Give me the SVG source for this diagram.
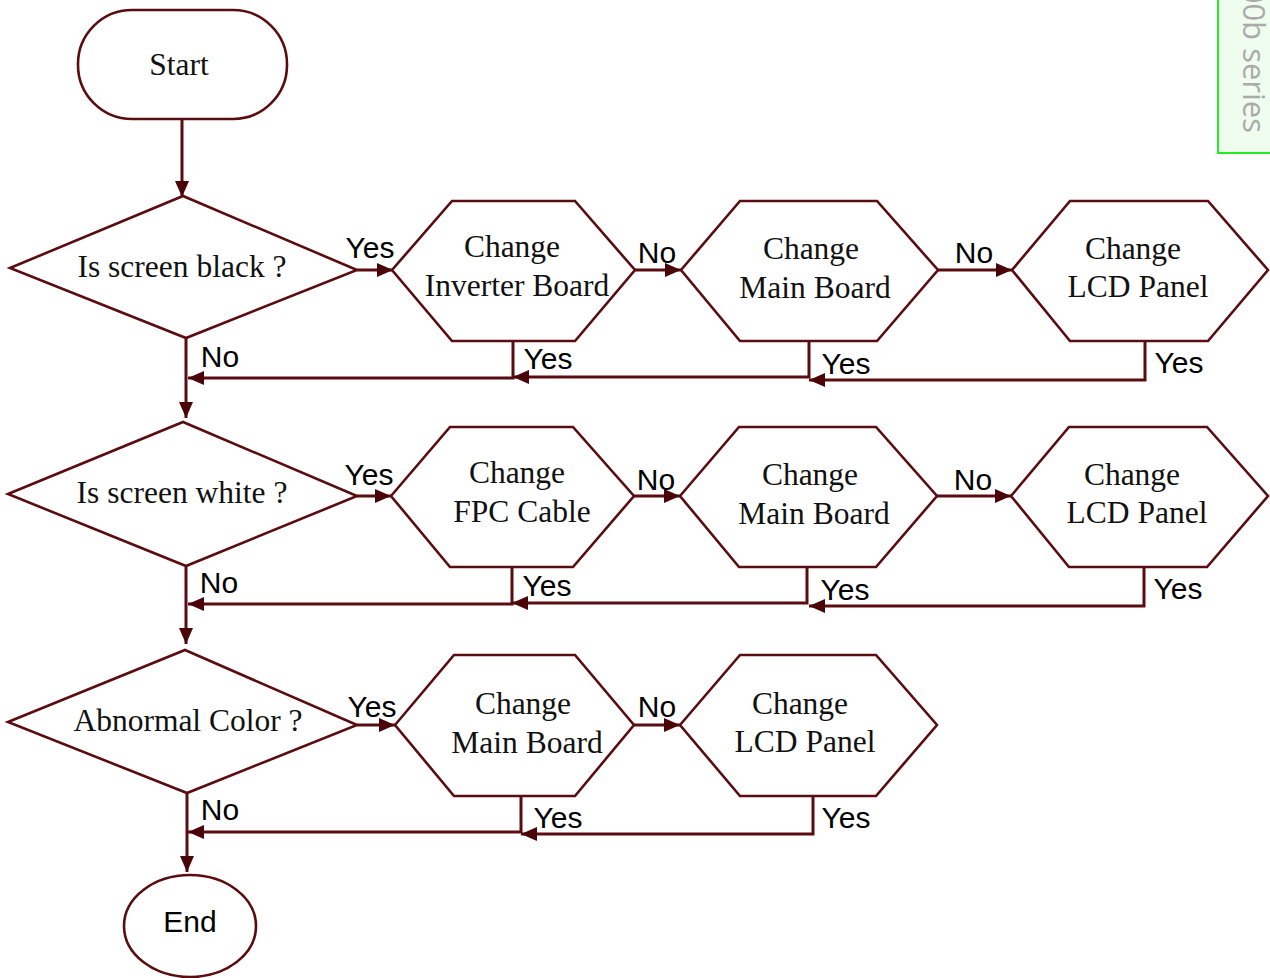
<svg xmlns="http://www.w3.org/2000/svg" width="1270" height="978" viewBox="0 0 1270 978">
<defs>
<style>
.shape{fill:#fff;stroke:#5a0c10;stroke-width:2.6}
.line{fill:none;stroke:#5a0c10;stroke-width:3}
.t{font-family:"Liberation Serif",serif;font-size:31.5px;fill:#111;text-anchor:middle}
.l{font-family:"Liberation Sans",Arial,sans-serif;font-size:30px;fill:#000;text-anchor:middle}
</style>
<marker id="ah" viewBox="0 0 16 14" refX="16" refY="7" markerWidth="16" markerHeight="14" markerUnits="userSpaceOnUse" orient="auto">
<path d="M0,0 L16,7 L0,14 Z" fill="#4a0508"/>
</marker>
</defs>
<rect width="1270" height="978" fill="#fff"/>
<g id="watermark">
<rect x="1218" y="-5" width="60" height="158" fill="#effdef" stroke="#22ee22" stroke-width="2"/>
<text transform="translate(1243,133) rotate(90)" font-family="Open Sans,sans-serif" font-size="31" fill="#aaaaaa" text-anchor="end">00b series</text>
</g>
<g id="connectors">
<path class="line" d="M182,119 V197" marker-end="url(#ah)"/>
<path class="line" d="M357,270 H393" marker-end="url(#ah)"/>
<path class="line" d="M635,270 H681" marker-end="url(#ah)"/>
<path class="line" d="M938,270 H1012" marker-end="url(#ah)"/>
<path class="line" d="M186,338 V418" marker-end="url(#ah)"/>
<path class="line" d="M513,341 V378 H188" marker-end="url(#ah)"/>
<path class="line" d="M809,341 V377 H513" marker-end="url(#ah)"/>
<path class="line" d="M1145,341 V380 H809" marker-end="url(#ah)"/>
<path class="line" d="M357,496 H391" marker-end="url(#ah)"/>
<path class="line" d="M634,496 H680" marker-end="url(#ah)"/>
<path class="line" d="M937,496 H1011" marker-end="url(#ah)"/>
<path class="line" d="M186,566 V644" marker-end="url(#ah)"/>
<path class="line" d="M512,567 V604 H188" marker-end="url(#ah)"/>
<path class="line" d="M807,567 V603 H512" marker-end="url(#ah)"/>
<path class="line" d="M1144,567 V606 H809" marker-end="url(#ah)"/>
<path class="line" d="M357,725 H395" marker-end="url(#ah)"/>
<path class="line" d="M634,725 H680" marker-end="url(#ah)"/>
<path class="line" d="M187,793 V872" marker-end="url(#ah)"/>
<path class="line" d="M521,796 V832 H188" marker-end="url(#ah)"/>
<path class="line" d="M813,796 V834 H521" marker-end="url(#ah)"/>
<text class="l" x="370" y="258">Yes</text>
<text class="l" x="657" y="263">No</text>
<text class="l" x="974" y="263">No</text>
<text class="l" x="220" y="367">No</text>
<text class="l" x="548" y="369">Yes</text>
<text class="l" x="846" y="374">Yes</text>
<text class="l" x="1179" y="373">Yes</text>
<text class="l" x="369" y="485">Yes</text>
<text class="l" x="656" y="490">No</text>
<text class="l" x="973" y="490">No</text>
<text class="l" x="219" y="593">No</text>
<text class="l" x="547" y="596">Yes</text>
<text class="l" x="845" y="600">Yes</text>
<text class="l" x="1178" y="599">Yes</text>
<text class="l" x="372" y="717">Yes</text>
<text class="l" x="657" y="717">No</text>
<text class="l" x="220" y="820">No</text>
<text class="l" x="558" y="828">Yes</text>
<text class="l" x="846" y="828">Yes</text>
</g>
<g id="start">
<rect class="shape" x="78" y="10" width="209" height="109" rx="54" ry="54"/>
<text class="t" x="179" y="75">Start</text>
</g>
<g id="d1">
<polygon class="shape" points="10,268 183,196 357,270 186,338"/>
<text class="t" x="182" y="277">Is screen black ?</text>
</g>
<g id="h11">
<polygon class="shape" points="392,270 452,201 575,201 635,270 575,341 452,341"/>
<text class="t" x="512" y="257">Change</text>
<text class="t" x="517" y="296">Inverter Board</text>
</g>
<g id="h12">
<polygon class="shape" points="681,270 740,201 877,201 938,270 877,341 740,341"/>
<text class="t" x="811" y="259">Change</text>
<text class="t" x="815" y="298">Main Board</text>
</g>
<g id="h13">
<polygon class="shape" points="1012,270 1070,201 1208,201 1268,270 1208,341 1070,341"/>
<text class="t" x="1133" y="259">Change</text>
<text class="t" x="1138" y="297">LCD Panel</text>
</g>
<g id="d2">
<polygon class="shape" points="8,494 183,422 357,496 186,566"/>
<text class="t" x="182" y="503">Is screen white ?</text>
</g>
<g id="h21">
<polygon class="shape" points="391,496 450,427 573,427 634,496 573,567 450,567"/>
<text class="t" x="517" y="483">Change</text>
<text class="t" x="522" y="522">FPC Cable</text>
</g>
<g id="h22">
<polygon class="shape" points="680,496 739,427 876,427 937,496 876,567 739,567"/>
<text class="t" x="810" y="485">Change</text>
<text class="t" x="814" y="524">Main Board</text>
</g>
<g id="h23">
<polygon class="shape" points="1011,496 1069,427 1207,427 1268,496 1207,567 1069,567"/>
<text class="t" x="1132" y="485">Change</text>
<text class="t" x="1137" y="523">LCD Panel</text>
</g>
<g id="d3">
<polygon class="shape" points="8,722 185,650 357,725 187,793"/>
<text class="t" x="188" y="731">Abnormal Color ?</text>
</g>
<g id="h31">
<polygon class="shape" points="395,725 454,655 575,655 634,725 575,796 454,796"/>
<text class="t" x="523" y="714">Change</text>
<text class="t" x="527" y="753">Main Board</text>
</g>
<g id="h32">
<polygon class="shape" points="680,725 740,655 876,655 937,725 876,796 740,796"/>
<text class="t" x="800" y="714">Change</text>
<text class="t" x="805" y="752">LCD Panel</text>
</g>
<g id="end">
<ellipse class="shape" cx="190" cy="926" rx="66" ry="51"/>
<text class="l" x="190" y="932" font-size="33">End</text>
</g>
</svg>
